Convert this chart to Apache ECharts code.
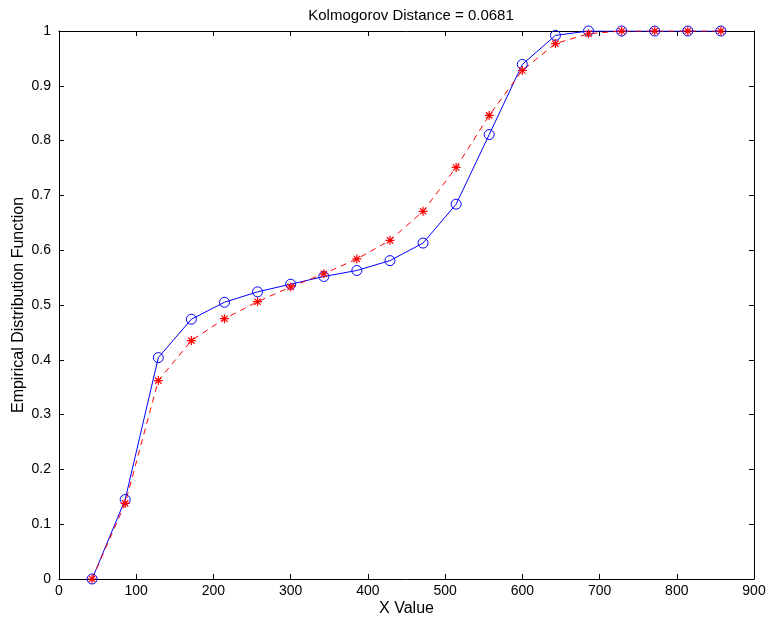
<!DOCTYPE html>
<html lang="en" style="background: #FFFFFF;height: 100%">

<head>
    <meta charset="utf-8" />
    <title>Kolmogorov Distance</title>
    <script type="text/javascript" src="https://cdn.jsdelivr.net/npm/echarts@6/dist/echarts.min.js"></script>
</head>

<body style="margin: 0;height: 100%">
    <div id="chart" style="width:769px;height:621px"></div>
    <script>
    // x positions of the sample points
    let xValues = [42.9, 85.7, 128.6, 171.4, 214.3, 257.1, 300.0, 342.9, 385.7, 428.6,
        471.4, 514.3, 557.1, 600.0, 642.9, 685.7, 728.6, 771.4, 814.3, 857.1]
    // empirical cdf (blue, circles)
    let empirical = [0, 0.145, 0.404, 0.474, 0.505, 0.524, 0.538, 0.552, 0.563, 0.581,
        0.613, 0.684, 0.811, 0.939, 0.992, 1, 1, 1, 1, 1]
    // fitted cdf (red, asterisks)
    let fitted = [0, 0.138, 0.362, 0.435, 0.475, 0.506, 0.533, 0.557, 0.584, 0.618,
        0.671, 0.751, 0.846, 0.928, 0.977, 0.995, 1, 1, 1, 1]
    let titleText = 'Kolmogorov Distance = 0.0681'

    let font = 'Liberation Sans'
    let pairs = ys => xValues.map((x, i) => [x, ys[i]])
    let asterisk = 'path://M0,-10L0,10M-10,0L10,0M-7,-7L7,7M-7,7L7,-7'

    // matlab style box: all four sides drawn, ticks pointing in
    function frame(extra) {
        return Object.assign({
            type: 'value', min: 0,
            axisLine: { show: true, onZero: false, lineStyle: { color: '#000', width: 1 } },
            axisTick: { show: true, inside: true, length: 5, lineStyle: { color: '#000' } },
            splitLine: { show: false },
            nameMoveOverlap: false,
            axisLabel: { color: '#000', fontFamily: font, fontSize: 14 }
        }, extra)
    }

    let chart = echarts.init(document.getElementById('chart'))
    chart.setOption({
        animation: false,
        backgroundColor: '#fff',
        title: {
            text: titleText, left: 406, top: 3, textAlign: 'center',
            textStyle: { fontFamily: font, fontSize: 15, fontWeight: 'normal', color: '#000' }
        },
        grid: { left: 59, right: 15, top: 31, bottom: 42, containLabel: false, outerBoundsMode: 'none' },
        xAxis: [
            frame({
                max: 900, interval: 100, position: 'bottom',
                name: 'X Value', nameLocation: 'middle', nameGap: 22,
                nameTextStyle: { fontFamily: font, fontSize: 16, color: '#000' },
                axisLabel: { color: '#000', fontFamily: font, fontSize: 14, margin: 5 }
            }),
            frame({ max: 900, interval: 100, position: 'top', axisLabel: { show: false } })
        ],
        yAxis: [
            frame({
                max: 1, interval: 0.1, position: 'left',
                name: 'Empirical Distribution Function', nameLocation: 'middle', nameGap: 32,
                nameTextStyle: { fontFamily: font, fontSize: 16, color: '#000' },
                axisLabel: { color: '#000', fontFamily: font, fontSize: 14, margin: 8 }
            }),
            frame({ max: 1, interval: 0.1, position: 'right', axisLabel: { show: false } })
        ],
        series: [
            {
                type: 'line', data: pairs(empirical), symbol: 'circle', symbolSize: 10,
                showAllSymbol: true,
                lineStyle: { color: '#0000ff', width: 1 },
                itemStyle: { color: 'rgba(0,0,0,0)', borderColor: '#0000ff', borderWidth: 1 }
            },
            {
                type: 'line', data: pairs(fitted), symbol: asterisk, symbolSize: 9,
                showAllSymbol: true,
                lineStyle: { color: '#ff0000', width: 1, type: [6, 5] },
                itemStyle: { color: '#ff0000', borderColor: '#ff0000', borderWidth: 1.2 }
            }
        ]
    })
    </script>
</body>

</html>
